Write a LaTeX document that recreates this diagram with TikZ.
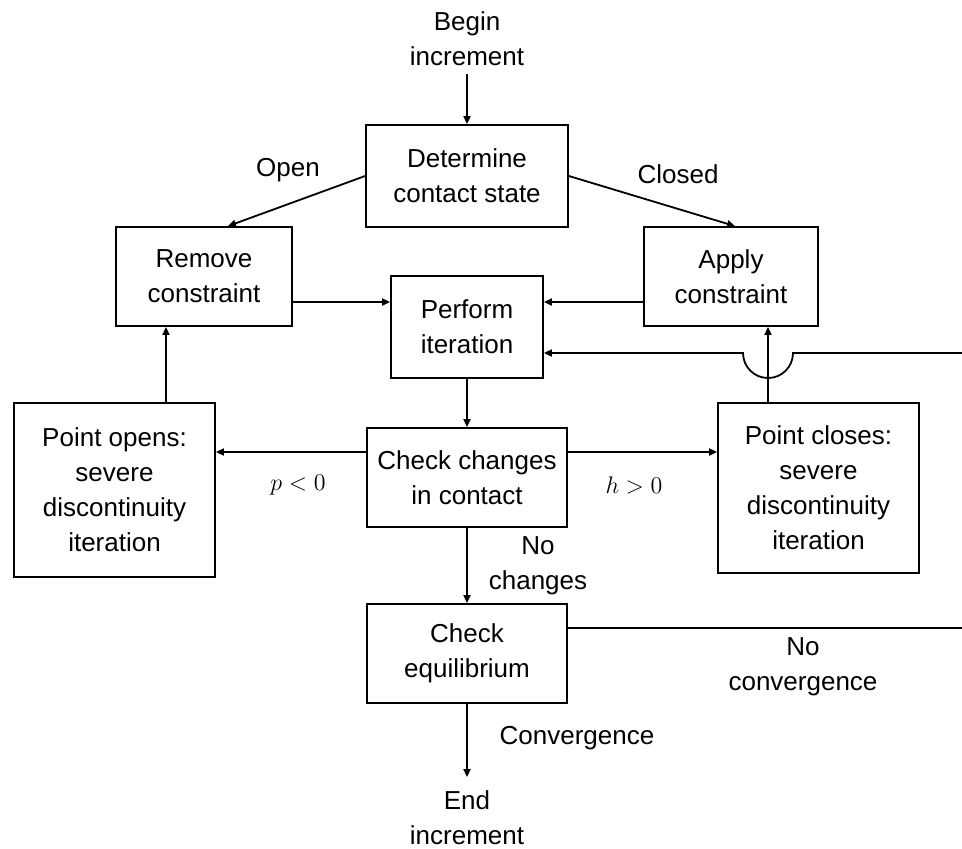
\documentclass[tikz,border=0pt]{standalone}
\usepackage{fontspec}
\setmainfont{Liberation Sans}
\usepackage{tikz}
\usetikzlibrary{arrows.meta}
\tikzset{>/.tip={Triangle[length=4pt,width=3.5pt]}}
\tikzset{box/.style={draw, align=center, inner sep=0pt},
         txt/.style={align=center, inner sep=1pt}}

\begin{document}
\begin{tikzpicture}[x=0.5pt, y=-0.5pt, line width=0.9pt,
    every node/.append style={font=\fontsize{13}{17.5}\selectfont}]
 \useasboundingbox (0,0) rectangle (962,848);

 \node[txt] (beginc) at (467, 39) {Begin\\increment};
 \node[box, minimum width=101pt, minimum height=51pt]   (det)    at (467, 176)   {Determine\\contact state};
 \node[box, minimum width=88pt,  minimum height=49.5pt] (rem)    at (204, 276.5) {Remove\\constraint};
 \node[box, minimum width=87pt,  minimum height=49.5pt] (app)    at (731, 276.5) {Apply\\constraint};
 \node[box, minimum width=76pt,  minimum height=51pt]   (perf)   at (467, 327)   {Perform\\iteration};
 \node[box, minimum width=100pt, minimum height=49.5pt] (chk)    at (467, 477.5) {Check changes\\in contact};
 \node[box, minimum width=100.5pt, minimum height=87pt] (opens)  at (114.5, 490) {Point opens:\\severe\\discontinuity\\iteration};
 \node[box, minimum width=100.5pt, minimum height=85pt] (closes) at (818.5, 488) {Point closes:\\severe\\discontinuity\\iteration};
 \node[box, minimum width=100pt, minimum height=49.5pt] (equil)  at (467, 653.5) {Check\\equilibrium};
 \node[txt] (endinc) at (467, 818) {End\\increment};

 % branch labels
 \node[txt] (open)    at (288, 170) {Open};
 \node[txt] (closed)  at (678, 174) {Closed};
 \node[txt] (pneg)    at (298, 485) {$p<0$};
 \node[txt] (hpos)    at (634, 485) {$h>0$};
 \node[txt] (nochg)   at (538, 566) {No\\changes};
 \node[txt] (noconv)  at (803, 667) {No\\convergence};
 \node[txt] (conv)    at (577, 738) {Convergence};

 \coordinate (loopout) at (962, 628);
 \coordinate (loopin)  at (962, 353);

 \draw[->] ([yshift=-2.5pt]beginc.south) to (det);
 \draw[->] (det.west) to ([xshift=12pt]rem.north);
 \draw[->] (det.east) to ([xshift=2pt]app.north);
 \draw[->] (rem.east |- 0,302) to (perf.west |- 0,302);
 \draw[->] (app.west |- 0,302) to (perf.east |- 0,302);
 \draw[->] (perf) to (chk);
 \draw[->] (chk.west |- 0,452) to (opens.east |- 0,452);
 \draw[->] (chk.east |- 0,452) to (closes.west |- 0,452);
 \draw[->] (opens.north -| 166,0) to (rem.south -| 166,0);
 \draw[->] (closes.north -| 768,0) to (app.south -| 768,0);
 \draw[->] (chk) to (equil);
 \draw[->] (equil) to ([yshift=5.5pt]endinc.north);
 \draw (equil.east |- loopout) -- (loopout);
 \draw[->] (loopin) -- (793,353) arc[start angle=0, end angle=-180, radius=12.5pt]
   -- (perf.east |- loopin);
\end{tikzpicture}
\end{document}
